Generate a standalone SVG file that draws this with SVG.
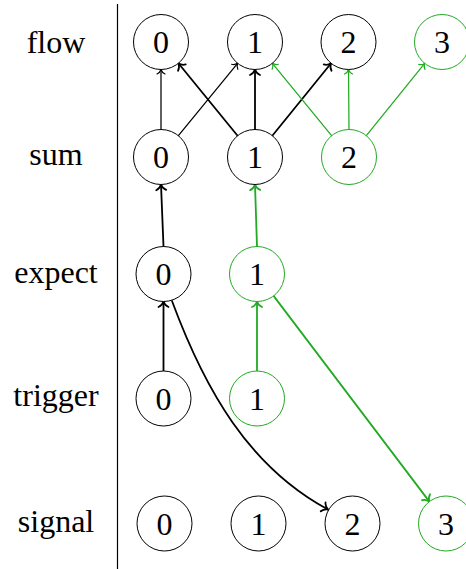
<svg xmlns="http://www.w3.org/2000/svg" width="466" height="569" viewBox="0 0 466 569">
  <style>
    text { font-family: "Liberation Serif", "DejaVu Serif", serif; fill: #000; text-anchor: middle; }
    .lbl { font-size: 32px; }
    .num { font-size: 32px; }
    .node { fill: #fff; stroke: #000; stroke-width: 1; }
    .node.g { stroke: #22aa22; }
    .e { fill: none; stroke-linecap: round; }
    .thin { stroke-width: 1.25; }
    .thick { stroke-width: 1.8; }
    .k { stroke: #000; }
    .gr { stroke: #22aa22; }
  </style>
  <defs>
    <marker id="tk" markerUnits="userSpaceOnUse" orient="auto" refX="0" refY="0" markerWidth="12" markerHeight="12" overflow="visible">
      <path d="M-4.5,-4 C-3.5,-1.6 -1.2,-0.4 0,0 C-1.2,0.4 -3.5,1.6 -4.5,4" fill="none" stroke="#000" stroke-width="1.2" stroke-linecap="round"/>
    </marker>
    <marker id="tg" markerUnits="userSpaceOnUse" orient="auto" refX="0" refY="0" markerWidth="12" markerHeight="12" overflow="visible">
      <path d="M-4.5,-4 C-3.5,-1.6 -1.2,-0.4 0,0 C-1.2,0.4 -3.5,1.6 -4.5,4" fill="none" stroke="#22aa22" stroke-width="1.2" stroke-linecap="round"/>
    </marker>
    <marker id="bk" markerUnits="userSpaceOnUse" orient="auto" refX="0" refY="0" markerWidth="14" markerHeight="14" overflow="visible">
      <path d="M-5.5,-5 C-4.3,-2 -1.5,-0.5 0,0 C-1.5,0.5 -4.3,2 -5.5,5" fill="none" stroke="#000" stroke-width="1.8" stroke-linecap="round"/>
    </marker>
    <marker id="bg" markerUnits="userSpaceOnUse" orient="auto" refX="0" refY="0" markerWidth="14" markerHeight="14" overflow="visible">
      <path d="M-5.5,-5 C-4.3,-2 -1.5,-0.5 0,0 C-1.5,0.5 -4.3,2 -5.5,5" fill="none" stroke="#22aa22" stroke-width="1.8" stroke-linecap="round"/>
    </marker>
  </defs>

  <rect width="466" height="569" fill="#fff"/>

  <!-- row labels and separator -->
  <g id="labels">
    <text class="lbl" x="56" y="53">flow</text>
    <text class="lbl" x="56" y="165">sum</text>
    <text class="lbl" x="56" y="283">expect</text>
    <text class="lbl" x="56" y="406">trigger</text>
    <text class="lbl" x="56" y="532">signal</text>
  </g>
  <line id="separator" x1="117.5" y1="4" x2="117.5" y2="569" stroke="#000" stroke-width="1.2"/>

  <!-- connectors -->
  <g id="connectors">
    <line class="e thin k" x1="161" y1="129.5" x2="161" y2="69.5" marker-end="url(#tk)"/>
    <line class="e thin k" x1="178.4" y1="135.7" x2="237.6" y2="63.3" marker-end="url(#tk)"/>
    <line class="e thick k" x1="237.6" y1="135.7" x2="178.4" y2="63.3" marker-end="url(#bk)"/>
    <line class="e thick k" x1="255" y1="129.5" x2="255" y2="69.5" marker-end="url(#bk)"/>
    <line class="e thick k" x1="272.3" y1="135.7" x2="331.1" y2="63.3" marker-end="url(#bk)"/>
    <line class="e thin gr" x1="331.6" y1="135.7" x2="272.4" y2="63.3" marker-end="url(#tg)"/>
    <line class="e thin gr" x1="349" y1="129.5" x2="348.5" y2="69.5" marker-end="url(#tg)"/>
    <line class="e thin gr" x1="366.3" y1="135.6" x2="424.7" y2="63.4" marker-end="url(#tg)"/>
    <line class="e thick k" x1="163.5" y1="246.5" x2="161" y2="184.5" marker-end="url(#bk)"/>
    <line class="e thick gr" x1="257" y1="246.5" x2="255" y2="184.5" marker-end="url(#bg)"/>
    <line class="e thick k" x1="163.5" y1="371" x2="163.5" y2="301.5" marker-end="url(#bk)"/>
    <line class="e thick gr" x1="257" y1="371" x2="257" y2="301.5" marker-end="url(#bg)"/>
    <line class="e thick gr" x1="273.6" y1="295.9" x2="429.4" y2="501.6" marker-end="url(#bg)"/>
    <path class="e thick k" d="M172,301 C205,390 249,467 328,509.5" marker-end="url(#bk)"/>
  </g>

  <!-- flow row -->
  <g id="flow0"><circle class="node" cx="161" cy="42" r="27.5"/><text class="num" x="161" y="53">0</text></g>
  <g id="flow1"><circle class="node" cx="255" cy="42" r="27.5"/><text class="num" x="255" y="53">1</text></g>
  <g id="flow2"><circle class="node" cx="348.5" cy="42" r="27.5"/><text class="num" x="348.5" y="53">2</text></g>
  <g id="flow3"><circle class="node g" cx="442" cy="42" r="27.5"/><text class="num" x="442" y="53">3</text></g>

  <!-- sum row -->
  <g id="sum0"><circle class="node" cx="161" cy="157" r="27.5"/><text class="num" x="161" y="168">0</text></g>
  <g id="sum1"><circle class="node" cx="255" cy="157" r="27.5"/><text class="num" x="255" y="168">1</text></g>
  <g id="sum2"><circle class="node g" cx="349" cy="157" r="27.5"/><text class="num" x="349" y="168">2</text></g>

  <!-- expect row -->
  <g id="expect0"><circle class="node" cx="163.5" cy="274" r="27.5"/><text class="num" x="163.5" y="285">0</text></g>
  <g id="expect1"><circle class="node g" cx="257" cy="274" r="27.5"/><text class="num" x="257" y="285">1</text></g>

  <!-- trigger row -->
  <g id="trigger0"><circle class="node" cx="163.5" cy="398.5" r="27.5"/><text class="num" x="163.5" y="409.5">0</text></g>
  <g id="trigger1"><circle class="node g" cx="257" cy="398.5" r="27.5"/><text class="num" x="257" y="409.5">1</text></g>

  <!-- signal row -->
  <g id="signal0"><circle class="node" cx="164.5" cy="523.5" r="27.5"/><text class="num" x="164.5" y="534.5">0</text></g>
  <g id="signal1"><circle class="node" cx="258.5" cy="523.5" r="27.5"/><text class="num" x="258.5" y="534.5">1</text></g>
  <g id="signal2"><circle class="node" cx="352.5" cy="523.5" r="27.5"/><text class="num" x="352.5" y="534.5">2</text></g>
  <g id="signal3"><circle class="node g" cx="446" cy="523.5" r="27.5"/><text class="num" x="446" y="534.5">3</text></g>
</svg>
